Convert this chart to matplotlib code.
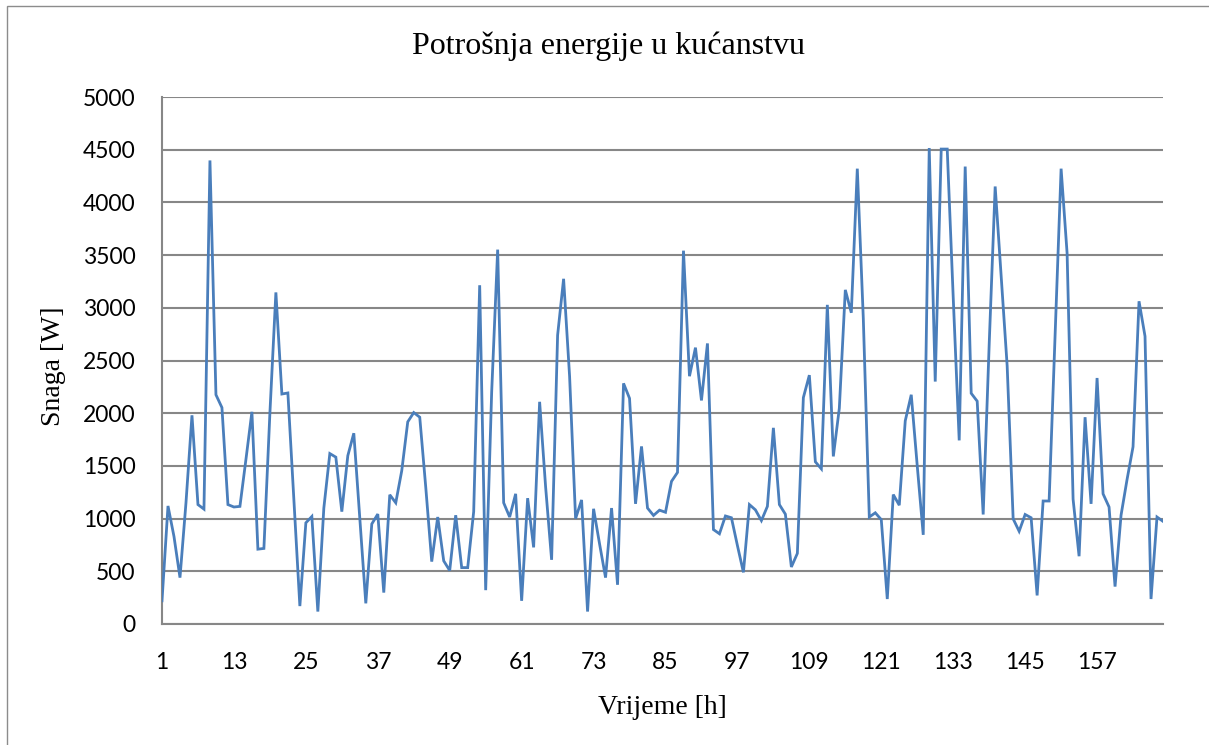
import matplotlib
matplotlib.use("Agg")
import matplotlib.pyplot as plt
from matplotlib.patches import Rectangle

hours = list(range(1, 169))
power = [
    220, 1120, 830, 440, 1150, 1980, 1133, 1090, 4398, 2175,
    2053, 1133, 1110, 1116, 1560, 2013, 710, 717, 2000, 3146,
    2182, 2192, 1180, 170, 960, 1020, 118, 1100, 1617, 1583,
    1066, 1597, 1810, 1000, 196, 949, 1043, 298, 1226, 1150,
    1455, 1918, 2006, 1962, 1300, 592, 1015, 599, 507, 1032,
    535, 535, 1066, 3214, 321, 2200, 3552, 1150, 1015, 1235,
    220, 1194, 727, 2108, 1300, 609, 2740, 3275, 2350, 1000,
    1177, 118, 1093, 760, 440, 1100, 372, 2283, 2141, 1140,
    1685, 1100, 1030, 1080, 1060, 1353, 1438, 3542, 2351, 2622,
    2121, 2662, 896, 856, 1025, 1008, 744, 490, 1133, 1083,
    981, 1116, 1861, 1133, 1042, 541, 670, 2148, 2361, 1539,
    1472, 3028, 1590, 2047, 3170, 2953, 4320, 2900, 1015, 1055,
    990, 237, 1228, 1127, 1928, 2175, 1500, 846, 4516, 2300,
    4506, 4506, 3100, 1742, 4340, 2189, 2114, 1039, 2650, 4151,
    3300, 2450, 998, 880, 1039, 1008, 271, 1167, 1167, 2750,
    4320, 3518, 1184, 643, 1962, 1140, 2334, 1235, 1110, 355,
    1032, 1370, 1681, 3062, 2730, 237, 1015, 974,
]
x_ticks = list(range(1, 169, 12))
y_ticks = list(range(0, 5001, 500))

title = "Potrošnja energije u kućanstvu"
xlabel = "Vrijeme [h]"
ylabel = "Snaga [W]"

W, H = 1209, 745
fig = plt.figure(figsize=(W / 100, H / 100), dpi=100)
ax = fig.add_axes([162 / W, 1 - 624 / H, (1163 - 162) / W, (624 - 97) / H])

grid_c = "#878787"
ax.plot(hours, power, color="#4A7EBB", lw=2.0, solid_joinstyle="miter", zorder=3)

ax.set_xlim(1, 168)
ax.set_ylim(0, 5000)
ax.set_xticks(x_ticks)
ax.set_yticks(y_ticks)
ax.yaxis.grid(True, color=grid_c, lw=1.5)
ax.set_axisbelow(True)
for s in ["top", "right"]:
    ax.spines[s].set_visible(False)
for s in ["left", "bottom"]:
    ax.spines[s].set_color(grid_c)
    ax.spines[s].set_linewidth(1.5)

tick_font = "Lato"
ax.tick_params(axis="both", length=0, labelsize=16.5)
ax.tick_params(axis="x", pad=20)
ax.tick_params(axis="y", pad=19)
for lab in ax.get_xticklabels() + ax.get_yticklabels():
    lab.set_fontfamily(tick_font)

serif = ["Liberation Serif", "DejaVu Serif"]
fig.text(608 / W, 1 - 46 / H, title, ha="center", va="center",
         fontsize=23, family=serif)
fig.text(662 / W, 1 - 708 / H, xlabel, ha="center", va="center", fontsize=20, family=serif)
fig.text(54 / W, 1 - 366 / H, ylabel, ha="center", va="center", rotation=90,
         fontsize=20, family=serif)

fig.patches.append(Rectangle((6.5 / W, -0.02), 1.05, 1 - 6.5 / H + 0.02, fill=False,
                             edgecolor="#8c8c8c", lw=1.0, transform=fig.transFigure,
                             figure=fig, clip_on=False))

fig.savefig("out.png", dpi=100, facecolor="white")
